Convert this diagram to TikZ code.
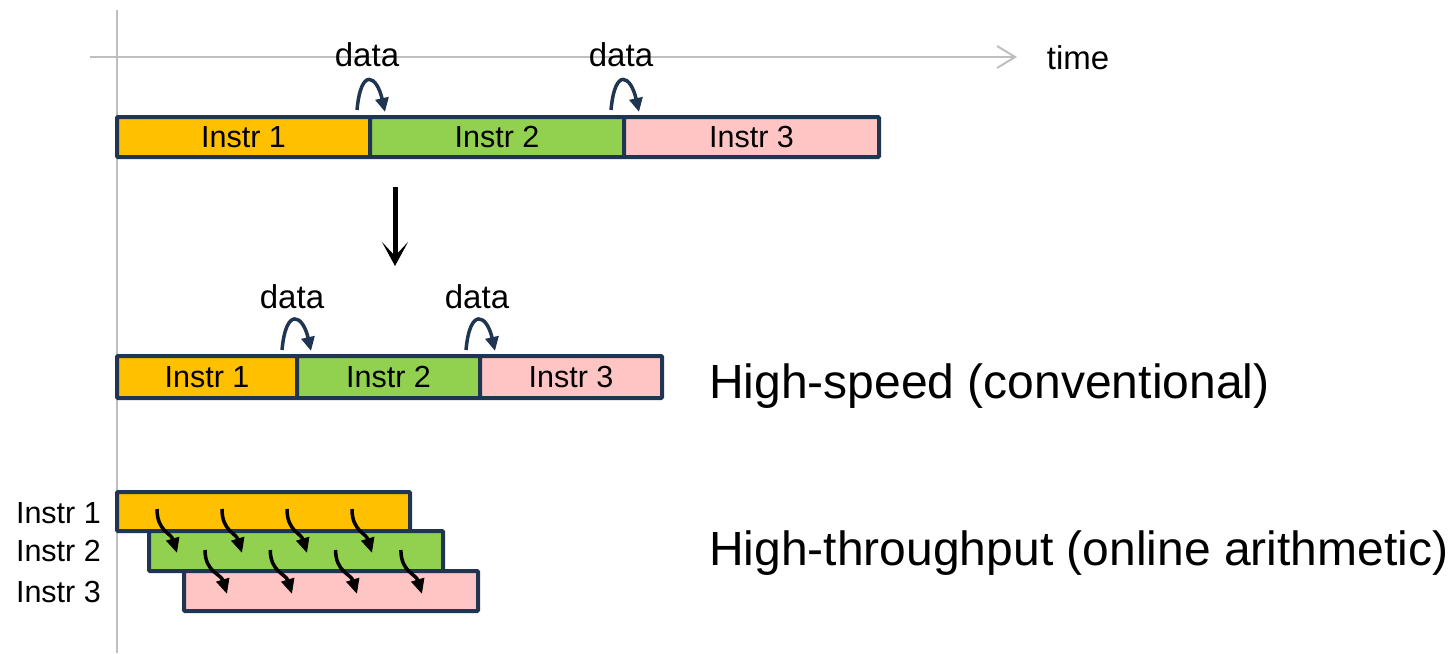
\documentclass[tikz,border=0pt]{standalone}
\usepackage{fontspec}
\setmainfont{Liberation Sans}
\usetikzlibrary{arrows.meta}
\definecolor{navy}{HTML}{1F3552}
\definecolor{orng}{HTML}{FFC000}
\definecolor{grn}{HTML}{92D050}
\definecolor{pnk}{HTML}{FFC4C4}
\definecolor{axisgray}{HTML}{BFBFBF}
\tikzset{
  bar/.style={draw=navy, line width=4pt, rounded corners=1pt, anchor=north west, inner sep=0pt,
    outer sep=0pt, font=\fontsize{30.5}{36}\selectfont},
  lbl/.style={inner sep=0pt, font=\fontsize{33}{38}\selectfont},
  rowlbl/.style={inner sep=0pt, anchor=east, font=\fontsize{30.5}{36}\selectfont},
  big/.style={inner sep=0pt, anchor=west, font=\fontsize{48}{56}\selectfont},
  darr/.style={draw=navy, line width=3.5pt, -{Triangle[length=14pt,width=13pt]}},
  sarr/.style={draw=black, line width=3.5pt, -{Triangle[length=15pt,width=13pt]}},
  axisline/.style={draw=axisgray, line width=2pt},
}
\begin{document}
\begin{tikzpicture}[x=1pt,y=-1pt]
\useasboundingbox (0,0) rectangle (1455,653);
% axes
\coordinate (vt) at (117,10);
\coordinate (vb) at (117,653);
\coordinate (ha) at (90,57);
\coordinate (hb) at (1017,57);
\draw[axisline] (vt) -- (vb);
\draw[axisline, -{Straight Barb[length=18pt,width=22pt,line width=2pt]}] (ha) -- (hb);
\node[lbl] (time) at (1078,58) {time};

% top row
\node[bar, fill=orng, minimum width=253pt, minimum height=40pt] (t1) at (117,117) {Instr 1};
\node[bar, fill=grn, minimum width=254pt, minimum height=40pt] (t2) at (370,117) {Instr 2};
\node[bar, fill=pnk, minimum width=255pt, minimum height=40pt] (t3) at (624,117) {Instr 3};
\node[lbl] (d1) at (367,55) {data};
\node[lbl] (d2) at (621,55) {data};
\draw[darr] ([shift={(-13,-7)}]t1.north east) .. controls +(4,-44) and +(-8,-36) .. ([shift={(15,-5)}]t2.north west);
\draw[darr] ([shift={(-13,-7)}]t2.north east) .. controls +(4,-44) and +(-8,-36) .. ([shift={(15,-5)}]t3.north west);

% big arrow
\coordinate (ga) at (395,187);
\coordinate (gb) at (395,266);
\draw[line width=5pt, -{Stealth[length=24pt,width=26pt,inset=14pt]}] (ga) -- (gb);

% middle row
\node[bar, fill=orng, minimum width=180pt, minimum height=42pt] (m1) at (117,356) {Instr 1};
\node[bar, fill=grn, minimum width=183pt, minimum height=42pt] (m2) at (297,356) {Instr 2};
\node[bar, fill=pnk, minimum width=182pt, minimum height=42pt] (m3) at (480,356) {Instr 3};
\node[lbl] (d3) at (292,297) {data};
\node[lbl] (d4) at (477,297) {data};
\draw[darr] ([shift={(-15,-6)}]m1.north east) .. controls +(4,-44) and +(-8,-36) .. ([shift={(14,-5)}]m2.north west);
\draw[darr] ([shift={(-14,-6)}]m2.north east) .. controls +(4,-44) and +(-8,-36) .. ([shift={(15,-5)}]m3.north west);
\node[big] (hs) at (709,386) {High-speed (conventional)};

% pipelined rows
\node[bar, fill=orng, minimum width=293pt, minimum height=39pt] (p1) at (117,492) {};
\node[bar, fill=grn, minimum width=294pt, minimum height=40pt] (p2) at (149,531) {};
\node[bar, fill=pnk, minimum width=294pt, minimum height=40pt] (p3) at (184,571) {};
\node[rowlbl] (l1) at (101,513) {Instr 1};
\node[rowlbl] (l2) at (101,551) {Instr 2};
\node[rowlbl] (l3) at (101,592) {Instr 3};
\foreach \k in {0,1,2,3} {
  \draw[sarr] ([shift={(40+65*\k,17)}]p1.north west) .. controls +(0,22) and +(-6,-20) .. ([shift={(28+65*\k,22)}]p2.north west);
  \draw[sarr] ([shift={(56+65.3*\k,19)}]p2.north west) .. controls +(0,22) and +(-6,-20) .. ([shift={(43+65*\k,23)}]p3.north west);
}
\node[big] (ht) at (709,553) {High-throughput (online arithmetic)};
\end{tikzpicture}
\end{document}
